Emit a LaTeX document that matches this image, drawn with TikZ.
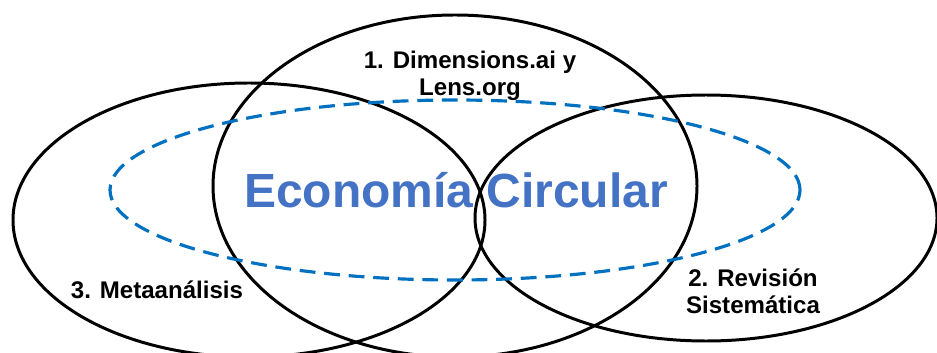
\documentclass[tikz,border=0pt]{standalone}
\usepackage{fontspec}
\setmainfont{Liberation Sans}
\definecolor{econblue}{HTML}{4472C4}
\definecolor{dashblue}{HTML}{0070C0}
\begin{document}
\begin{tikzpicture}[x=1cm,y=1cm,line width=1.7pt,
  ring/.style={draw=black},
  core/.style={draw=dashblue,line width=1.8pt,dash pattern=on 9pt off 5pt},
  lbl/.style={font=\fontsize{13.7}{15.4}\selectfont\bfseries,align=center,inner sep=0pt},
  ttl/.style={font=\fontsize{27.3}{30}\selectfont\bfseries,text=econblue,inner sep=0pt}]
  \useasboundingbox (0,0) rectangle (18.74,7.04);
  \coordinate (c1) at (9.10,3.32);
  \coordinate (c2) at (14.12,2.68);
  \coordinate (c3) at (4.98,2.64);
  \coordinate (c0) at (9.10,3.24);
  \draw[ring] (c1) ellipse [x radius=4.84cm,y radius=3.42cm];
  \draw[ring] (c2) ellipse [x radius=4.62cm,y radius=2.46cm];
  \draw[ring] (c3) ellipse [x radius=4.72cm,y radius=2.74cm];
  \draw[core] (c0) ellipse [x radius=6.90cm,y radius=1.80cm];
  \node[ttl,anchor=base] (econ) at (9.12,2.90) {Economía Circular};
  \node[lbl] (dim) at (9.40,5.53) {1. Dimensions.ai y\\Lens.org};
  \node[lbl] (rev) at (15.06,1.21) {2. Revisión\\Sistemática};
  \node[lbl,anchor=base] (meta) at (3.14,1.08) {3. Metaanálisis};
\end{tikzpicture}
\end{document}
